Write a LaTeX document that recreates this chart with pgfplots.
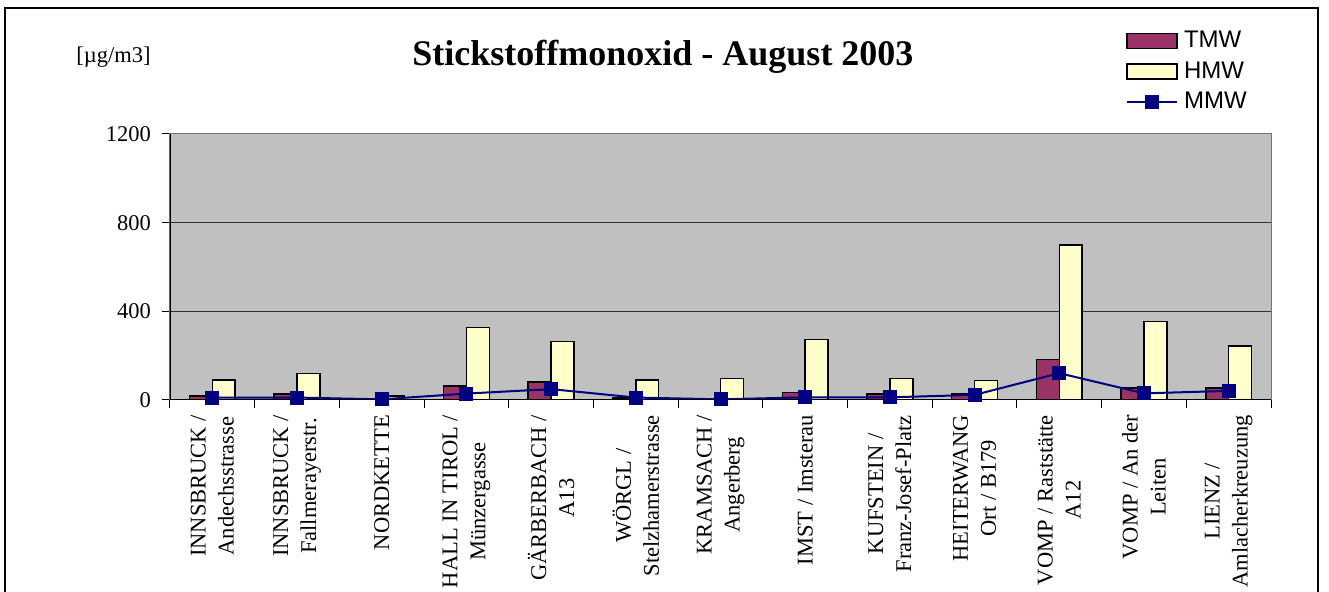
\documentclass[border=0pt]{standalone}
\usepackage{fontspec}
\setmainfont{Liberation Serif}
\newfontfamily\arialfont{Liberation Sans}
\usepackage{pgfplots}
\pgfplotsset{compat=1.18}

\definecolor{tmw}{RGB}{153,51,102}
\definecolor{hmw}{RGB}{255,255,204}
\definecolor{mmw}{RGB}{0,0,128}
\definecolor{plotbg}{RGB}{192,192,192}

\pgfplotsset{
  barlegend/.style={legend image code/.code={\draw[##1] (0pt,-3.75pt) rectangle (25pt,3.75pt);}},
  linelegend/.style={legend image code/.code={\draw[##1, mark repeat=2, mark phase=2] plot coordinates {(0pt,0pt) (12.5pt,0pt) (25pt,0pt)};}},
}

\begin{document}
\begin{tikzpicture}
\path[use as bounding box] (-85pt,-96pt) rectangle (579.5pt,200pt);
\draw[black,line width=0.6pt] (-82.5pt,-110pt) -- (-82.5pt,196pt) -- (574pt,196pt) -- (574pt,-110pt);
\begin{axis}[
  at={(0,0)}, anchor=south west,
  width=550.5pt, height=133pt, scale only axis,
  xmin=-0.5, xmax=12.5, ymin=0, ymax=1200,
  ytick={0,400,800,1200},
  xtick={0,...,12},
  minor xtick={-0.5,0.5,...,12.5},
  xticklabels={
    {INNSBRUCK /\\Andechsstrasse},
    {INNSBRUCK /\\Fallmerayerstr.},
    {NORDKETTE},
    {HALL IN TIROL /\\Münzergasse},
    {GÄRBERBACH /\\A13},
    {WÖRGL /\\Stelzhamerstrasse},
    {KRAMSACH /\\Angerberg},
    {IMST / Imsterau},
    {KUFSTEIN /\\Franz-Josef-Platz},
    {HEITERWANG\\Ort / B179},
    {VOMP / Raststätte\\A12},
    {VOMP / An der\\Leiten},
    {LIENZ /\\Amlacherkreuzung}},
  xticklabel style={rotate=90, anchor=east, align=center,
    font=\fontsize{11.25}{14}\selectfont},
  yticklabel style={font=\fontsize{11.25}{13}\selectfont, xshift=-2pt},
  /pgf/number format/assume math mode=true,
  /pgf/number format/1000 sep={},
  tick pos=left, tick align=outside,
  major tick length=4pt, minor tick length=4pt,
  major x tick style={draw=none},
  minor x tick style={black, line width=0.5pt},
  y tick style={black, line width=0.5pt},
  ymajorgrids, grid style={black!80, line width=0.5pt},
  axis background/.style={fill=plotbg},
  axis line style={draw=gray!90!black, line width=0.5pt},
  legend style={draw=none, fill=none, at={(rel axis cs:0.868,1.402)}, anchor=north west,
    inner sep=0pt, font=\arialfont\fontsize{12}{12}\selectfont, row sep=1.5pt,
    column sep=1pt},
  legend cell align=left,
]
\addplot[ybar, bar width=0.27, bar shift=-0.135, fill=tmw, draw=black, line width=0.75pt, barlegend]
  coordinates {(0,18) (1,26) (2,3) (3,62) (4,82) (5,8) (6,7) (7,33) (8,26) (9,26) (10,182) (11,53) (12,53)};
\addlegendentry{TMW}
\addplot[ybar, bar width=0.27, bar shift=0.135, fill=hmw, draw=black, line width=0.75pt, barlegend]
  coordinates {(0,91) (1,119) (2,17) (3,327) (4,263) (5,91) (6,98) (7,273) (8,98) (9,88) (10,700) (11,353) (12,244)};
\addlegendentry{HMW}
\addplot[color=mmw, line width=1pt, mark=square*, mark size=3pt, mark options={fill=mmw, draw=mmw}, linelegend]
  coordinates {(0,11) (1,11) (2,3) (3,29) (4,49) (5,11) (6,3) (7,12) (8,12) (9,23) (10,121) (11,30) (12,41)};
\addlegendentry{MMW}
\draw[black, line width=0.75pt] (rel axis cs:0,1) -- (rel axis cs:0,0) -- (rel axis cs:1,0);
\end{axis}
\node[anchor=base, font=\fontsize{18}{20}\selectfont\bfseries] at (246.5pt,167pt) {Stickstoffmonoxid - August 2003};
\node[anchor=base, font=\fontsize{11.25}{13}\selectfont] at (-28.25pt,168.5pt) {[µg/m3]};
\end{tikzpicture}
\end{document}
